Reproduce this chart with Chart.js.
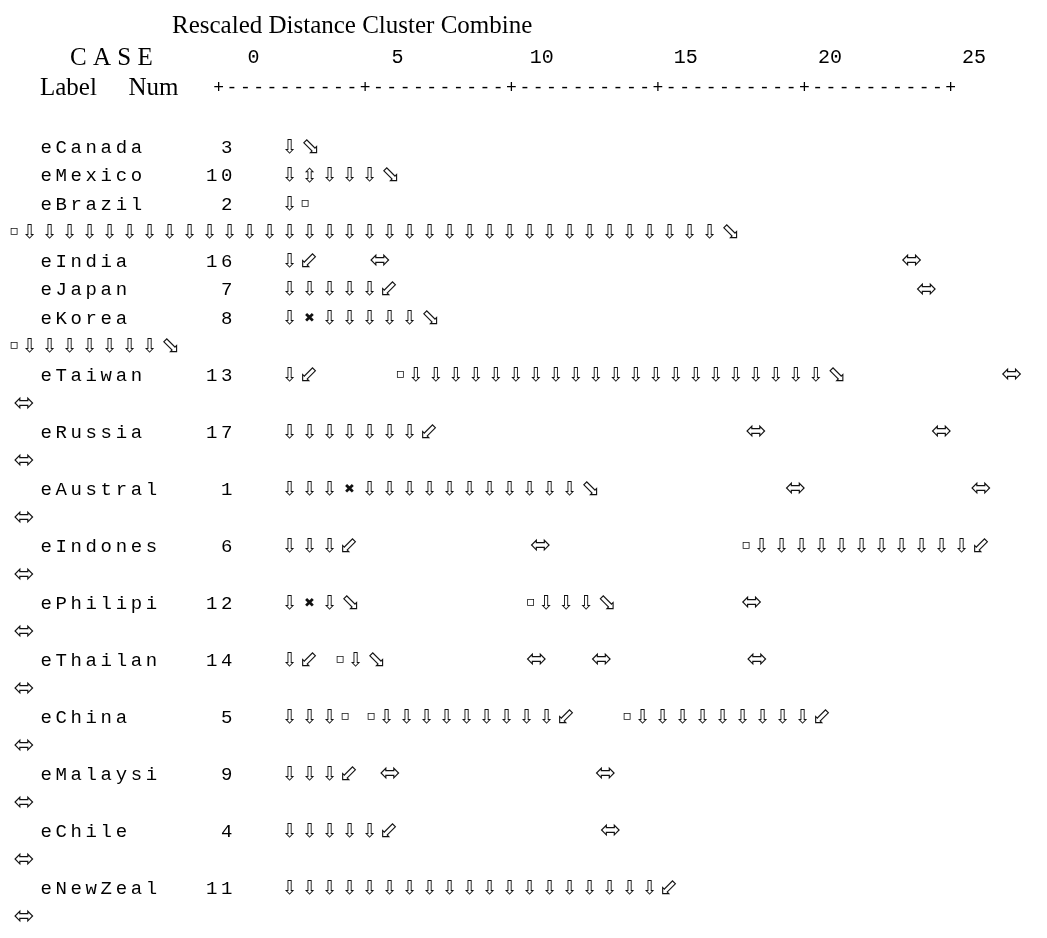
<!DOCTYPE html>
<html>
<head>
<meta charset="utf-8">
<script src="https://cdn.jsdelivr.net/npm/chart.js@4.4.1/dist/chart.umd.min.js"></script>
<style>
  html, body { margin: 0; padding: 0; background: #fff; }
  #wrap { width: 1047px; height: 938px; position: relative; }
</style>
</head>
<body>
<div id="wrap"><canvas id="dendro"></canvas></div>
<script>
// Cases in dendrogram order and their case numbers
const caseLabels = ['eCanada', 'eMexico', 'eBrazil', 'eIndia', 'eJapan', 'eKorea', 'eTaiwan', 'eRussia',
                    'eAustral', 'eIndones', 'ePhilipi', 'eThailan', 'eChina', 'eMalaysi', 'eChile', 'eNewZeal'];
const caseNums = [3, 10, 2, 16, 7, 8, 13, 17, 1, 6, 12, 14, 5, 9, 4, 11];

// Rescaled distance axis
const distanceTicks = [0, 5, 10, 15, 20, 25];

// Each printed line of the tree: which case starts it (-1 = wrapped continuation line)
const lineCase = [0, 1, 2, -1, 3, 4, 5, -1, 6, -1, 7, -1, 8, -1, 9, -1, 10, -1, 11, -1, 12, -1, 13, -1, 14, -1, 15, -1];

// Tree text of each printed line: literal glyph strings, or [char, repeat count] runs
const treeLines = [
  ['⇩⬂'],
  ['⇩⇳⇩⇩⇩⬂'],
  ['⇩▫'],
  ['▫', ['⇩', 35], '⬂'],
  ['⇩⬃', [' ', 3], '⬄', [' ', 34], '⬄'],
  [['⇩', 5], '⬃', [' ', 34], '⬄'],
  ['⇩✖', ['⇩', 5], '⬂'],
  ['▫', ['⇩', 7], '⬂'],
  ['⇩⬃', [' ', 5], '▫', ['⇩', 21], '⬂', [' ', 10], '⬄'],
  ['⬄'],
  [['⇩', 7], '⬃', [' ', 20], '⬄', [' ', 11], '⬄'],
  ['⬄'],
  ['⇩⇩⇩✖', ['⇩', 11], '⬂', [' ', 12], '⬄', [' ', 11], '⬄'],
  ['⬄'],
  ['⇩⇩⇩⬃', [' ', 11], '⬄', [' ', 13], '▫', ['⇩', 11], '⬃'],
  ['⬄'],
  ['⇩✖⇩⬂', [' ', 11], '▫⇩⇩⇩⬂', [' ', 8], '⬄'],
  ['⬄'],
  ['⇩⬃', [' ', 1], '▫⇩⬂', [' ', 9], '⬄', [' ', 3], '⬄', [' ', 9], '⬄'],
  ['⬄'],
  ['⇩⇩⇩▫', [' ', 1], '▫', ['⇩', 9], '⬃', [' ', 3], '▫', ['⇩', 9], '⬃'],
  ['⬄'],
  ['⇩⇩⇩⬃', [' ', 1], '⬄', [' ', 13], '⬄'],
  ['⬄'],
  [['⇩', 5], '⬃', [' ', 13], '⬄'],
  ['⬄'],
  [['⇩', 19], '⬃'],
  ['⬄']
];

// ---- layout (px) ----
const W = 1047, H = 938;
const COL_PX = 15.05;            // one monospaced column
const LINE_PX = 28.52;           // line pitch of the listing
const FIRST_BASELINE = 152.5;    // baseline of the first case line
const MARGIN_COL = 8.5 / COL_PX;
const TREE_COL = 18;             // "  label     num   " before the tree
const GLYPH_RAISE = 6.5 / LINE_PX;

const glyphAdvancePx = { ' ': COL_PX, '▫': 11, '⬄': 20 };
const DEFAULT_ADV = 20;
const glyphCenterPx = { '▫': 5.5, '⬄': 15, '⬂': 11 };
const DEFAULT_CENTER = 10;
const glyphSize = { '⇩': 19, '⇳': 19, '⬂': 23, '⬃': 23, '⬄': 25, '▫': 14, '✖': 13 };

function lineText(segs) {
  return segs.map(s => typeof s === 'string' ? s : s[0].repeat(s[1])).join('');
}

// glyph marks positioned in column units (x) and line units (y)
const treePoints = [];
treeLines.forEach((segs, k) => {
  let col = MARGIN_COL + (lineCase[k] >= 0 ? TREE_COL : 0);
  for (const ch of lineText(segs)) {
    const adv = (glyphAdvancePx[ch] ?? DEFAULT_ADV) / COL_PX;
    if (ch !== ' ') {
      const c = (glyphCenterPx[ch] ?? DEFAULT_CENTER) / COL_PX;
      treePoints.push({ x: col + c, y: k - GLYPH_RAISE, g: ch });
    }
    col += adv;
  }
});

const SERIF = '"Liberation Serif", "Times New Roman", serif';
const MONO = '"Liberation Mono", "Courier New", monospace';
const GLYPH = '"DejaVu Sans", "Noto Sans", sans-serif';

function drawInkCentered(ctx, text, cx, cy) {
  const m = ctx.measureText(text);
  const w = m.actualBoundingBoxLeft + m.actualBoundingBoxRight;
  const h = m.actualBoundingBoxAscent + m.actualBoundingBoxDescent;
  ctx.fillText(text, cx - w / 2 + m.actualBoundingBoxLeft, cy + h / 2 - m.actualBoundingBoxDescent);
}

const listingPlugin = {
  id: 'listing',
  afterDatasetsDraw(chart) {
    const ctx = chart.ctx;
    const xs = chart.scales.x, ys = chart.scales.y, ds = chart.scales.dist;
    const px = v => xs.getPixelForValue(v);
    const py = v => ys.getPixelForValue(v);
    ctx.save();
    ctx.fillStyle = '#000';
    ctx.textAlign = 'left';
    ctx.textBaseline = 'alphabetic';

    // header
    ctx.font = '25px ' + SERIF;
    ctx.fillText('Rescaled Distance Cluster Combine', px(172 / COL_PX), py(-4.19));
    ctx.fillText('C A S E', px(70 / COL_PX), py(-3.068));
    ctx.fillText('Label', px(40 / COL_PX), py(-2.016));
    ctx.fillText('Num', px(128.5 / COL_PX), py(-2.016));

    ctx.font = '20px ' + MONO;
    ctx.textAlign = 'center';
    distanceTicks.forEach(t => ctx.fillText(String(t), ds.getPixelForValue(t), py(-3.138)));

    // +----------+ ruler under the distance ticks
    let ruler = '';
    distanceTicks.forEach((t, i) => { ruler += '+' + (i < distanceTicks.length - 1 ? '----------' : ''); });
    const rStart = 218.7 / COL_PX, rPitch = 13.31 / COL_PX;
    ctx.font = '18px ' + MONO;
    [...ruler].forEach((ch, i) => ctx.fillText(ch, px(rStart + i * rPitch), py(-2.069)));

    // case labels and numbers, one monospaced column per character
    ctx.font = '19px ' + MONO;
    lineCase.forEach((ci, k) => {
      if (ci < 0) return;
      const label = caseLabels[ci];
      [...label].forEach((ch, j) => ctx.fillText(ch, px(MARGIN_COL + 2 + j + 0.5), py(k)));
      const num = String(caseNums[ci]);
      [...num].forEach((ch, j) => ctx.fillText(ch, px(MARGIN_COL + 15 - num.length + j + 0.5), py(k)));
    });

    // tree glyphs at the dataset's point positions
    const meta = chart.getDatasetMeta(0);
    const data = chart.data.datasets[0].data;
    ctx.textAlign = 'left';
    ctx.fillStyle = '#111';
    meta.data.forEach((el, i) => {
      const g = data[i].g;
      ctx.font = glyphSize[g] + 'px ' + GLYPH;
      drawInkCentered(ctx, g, el.x, el.y);
    });
    ctx.restore();
  }
};

const yMin = -FIRST_BASELINE / LINE_PX;
const yMax = (H - FIRST_BASELINE) / LINE_PX;
const DIST_ZERO_PX = 253.5, DIST_UNIT_PX = 28.824;

new Chart(document.getElementById('dendro'), {
  type: 'scatter',
  data: {
    datasets: [{
      label: 'tree',
      data: treePoints,
      pointRadius: 0,
      pointHoverRadius: 0,
      showLine: false
    }]
  },
  options: {
    responsive: true,
    maintainAspectRatio: false,
    animation: false,
    events: [],
    layout: { padding: 0 },
    plugins: {
      legend: { display: false },
      tooltip: { enabled: false },
      title: { display: false }
    },
    scales: {
      x: { type: 'linear', display: false, min: 0, max: W / COL_PX },
      y: { type: 'linear', display: false, reverse: true, min: yMin, max: yMax },
      dist: {
        type: 'linear', axis: 'x', display: false,
        min: -DIST_ZERO_PX / DIST_UNIT_PX,
        max: (W - DIST_ZERO_PX) / DIST_UNIT_PX
      }
    }
  },
  plugins: [listingPlugin]
});
</script>
</body>
</html>
